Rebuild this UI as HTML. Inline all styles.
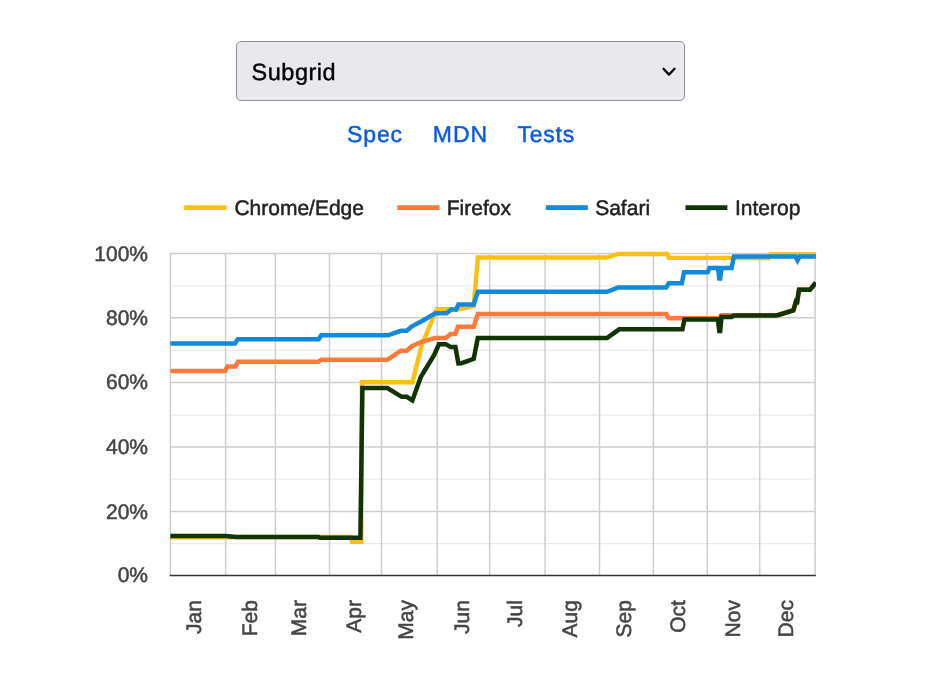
<!DOCTYPE html>
<html lang="en">
<head>
<meta charset="utf-8">
<title>Interop Dashboard - Subgrid</title>
<style>
  html, body { margin: 0; padding: 0; background: #ffffff; }
  body {
    width: 931px; height: 689px; position: relative; overflow: hidden;
    font-family: "Liberation Sans", sans-serif;
  }
  #page {
    position: absolute; left: 0; top: 0; width: 931px; height: 689px;
    will-change: transform; text-rendering: geometricPrecision;
  }
  .select {
    position: absolute; left: 236px; top: 41px; width: 449px; height: 60px;
    box-sizing: border-box;
    background: #e9e9ed; border: 1px solid #8f8f9d; border-radius: 5px;
  }
  .select .value {
    position: absolute; left: 14.6px; top: 14.5px;
    font-size: 23.5px; line-height: 30px; color: #000; letter-spacing: 0.5px;
    -webkit-text-stroke: 0.4px #000;
    white-space: nowrap;
  }
  .select svg { position: absolute; left: 424px; top: 24px; }
  .links a {
    position: absolute; top: 119px;
    font-size: 23px; line-height: 30px; color: #0a5ae4; text-decoration: none;
    -webkit-text-stroke: 0.45px #0a5ae4;
    white-space: nowrap;
  }
  #chart { position: absolute; left: 0; top: 0; }
  #chart text { font-family: "Liberation Sans", sans-serif; }
</style>
</head>
<body>
<div id="page">
  <div class="select">
    <span class="value">Subgrid</span>
    <svg width="16" height="12" viewBox="0 0 16 12"><path d="M2.5 2.8 L8 8.6 L13.5 2.8" fill="none" stroke="#0c0c0d" stroke-width="2.3" stroke-linecap="round" stroke-linejoin="round"/></svg>
  </div>
  <div class="links">
    <a style="left:347px;letter-spacing:0.9px">Spec</a>
    <a style="left:432.8px;letter-spacing:1px">MDN</a>
    <a style="left:517.5px;letter-spacing:0.75px">Tests</a>
  </div>

  <svg id="chart" width="931" height="689" viewBox="0 0 931 689">
    <!-- minor horizontal gridlines -->
    <g stroke="#ebebeb" stroke-width="1.3">
      <path d="M170 543.6H816M170 479.1H816M170 415H816M170 350.3H816M170 285.9H816"/>
    </g>
    <!-- major gridlines -->
    <g stroke="#cecece" stroke-width="1.5">
      <path d="M170 511.4H816M170 446.9H816M170 382.5H816M170 317.7H816M170 253.4H816"/>
      <path d="M170.4 253V576M225.6 253V576M275.4 253V576M329.5 253V576M381.5 253V576M437.3 253V576M489.65 253V576M545.1 253V576M599.5 253V576M653.4 253V576M707.2 253V576M759.7 253V576M815.1 253V576"/>
    </g>
    <!-- baseline -->
    <path d="M169.7 575.5H815.8" stroke="#333333" stroke-width="1.4"/>

    <!-- y labels -->
    <g font-size="21" fill="#444444" stroke="#444444" stroke-width="0.5" text-anchor="end">
      <text x="148" y="260.6">100%</text>
      <text x="148" y="325">80%</text>
      <text x="148" y="389.4">60%</text>
      <text x="148" y="453.8">40%</text>
      <text x="148" y="518.7">20%</text>
      <text x="148" y="582.4">0%</text>
    </g>
    <!-- x labels -->
    <g font-size="21" fill="#444444" stroke="#444444" stroke-width="0.5" text-anchor="end">
      <text transform="translate(201.3 600.1) rotate(-90)">Jan</text>
      <text transform="translate(256.5 600.1) rotate(-90)">Feb</text>
      <text transform="translate(306 600.1) rotate(-90)">Mar</text>
      <text transform="translate(360.9 600.1) rotate(-90)">Apr</text>
      <text transform="translate(413.4 600.1) rotate(-90)">May</text>
      <text transform="translate(468.6 600.1) rotate(-90)">Jun</text>
      <text transform="translate(521.7 600.1) rotate(-90)">Jul</text>
      <text transform="translate(577.1 600.1) rotate(-90)">Aug</text>
      <text transform="translate(631.2 600.1) rotate(-90)">Sep</text>
      <text transform="translate(684.5 600.1) rotate(-90)">Oct</text>
      <text transform="translate(739.5 600.1) rotate(-90)">Nov</text>
      <text transform="translate(792.5 600.1) rotate(-90)">Dec</text>
    </g>

    <!-- legend -->
    <g stroke-width="4.6" fill="none">
      <path d="M184.2 207.6H226.5" stroke="#fbc013"/>
      <path d="M397.2 207.6H439.6" stroke="#fc7a3a"/>
      <path d="M545.8 207.6H587.8" stroke="#1489da"/>
      <path d="M685.5 207.6H727.4" stroke="#123303"/>
    </g>
    <g font-size="21" fill="#222222" stroke="#222222" stroke-width="0.5">
      <text x="234.4" y="214.8">Chrome/Edge</text>
      <text x="446.8" y="214.8">Firefox</text>
      <text x="595.2" y="214.8">Safari</text>
      <text x="735" y="214.8">Interop</text>
    </g>

    <!-- series -->
    <clipPath id="plot"><rect x="169.9" y="240" width="646" height="336"/></clipPath>
    <g fill="none" stroke-width="4.5" stroke-linejoin="miter" clip-path="url(#plot)">
      <!-- Chrome/Edge -->
      <path id="s-chrome" stroke="#fbc013" d="M170.4 537.2 L226 537.2 L236 537.1 L351 537.1 L352 541.8 L361.2 541.8 L361.9 382.2 L412.5 382.2 L421.7 345.1 L436.8 309.2 L459.5 309.2 L473.7 306 L477.9 257.6 L607 257.6 L618.3 253.9 L667.1 253.9 L668.8 257.7 L768.6 257.9 L770.6 254.5 L815.9 254.5"/>
      <!-- Firefox -->
      <path id="s-firefox" stroke="#fc7a3a" d="M170.4 371 L225 371 L227.3 366.4 L235.6 366.4 L237.9 361.8 L318.3 361.8 L321.2 359.8 L387.4 359.8 L400.8 350.7 L406.7 350.7 L411.9 346.2 L421.7 341.8 L435 338 L445.8 338 L450.4 334 L455.3 334 L457.9 326.8 L473.7 326.8 L477.8 314.1 L666.2 314.1 L668.8 318.2 L719.6 318.2 L721.2 315.3 L775.5 315.2 L778.5 314.7 L793.4 310 L796 301.1 L797.2 301.6 L799 289.4 L810.1 289.4 L815.9 282.5"/>
      <!-- Safari -->
      <path id="s-safari" stroke="#1489da" d="M170.4 343.6 L235 343.6 L237.7 339.3 L318.7 339.3 L321.2 335.3 L387.9 335.3 L400.8 330.8 L406.7 330.8 L411.9 326.3 L421.7 321.2 L435.4 313.2 L446.5 313.2 L451.2 309.4 L456.2 309.4 L458.4 304.5 L473.7 304.5 L477.8 291.8 L607 291.8 L618.3 287.4 L666.2 287.4 L668.8 283.2 L681.9 283.2 L684 272.3 L707.6 272.3 L709.5 268 L717.9 268 L719.3 278.6 L720.2 278.6 L721.5 268 L731.6 268 L733.9 256.5 L795.4 256.5 L797.5 260.5 L799.6 256.5 L815.9 256.5"/>
      <!-- Interop -->
      <path id="s-interop" stroke="#123303" d="M170.4 535.9 L226 535.9 L236 537.1 L318.6 537.1 L320 537.8 L360.4 537.8 L362.4 388 L387.4 388 L401.7 396.8 L406.8 396.8 L412.4 400.4 L420.9 376.8 L434.2 355 L438.9 344.3 L445.9 344.3 L450.8 347.1 L455.4 347.1 L458.4 363.4 L461.5 363.2 L473.7 358.9 L477.8 338 L607 338 L619.2 329.3 L682.4 329.3 L684.5 319.6 L717.9 319.4 L719.3 330.9 L720.2 330.9 L721.5 316.9 L731.6 316.9 L733.9 315.5 L775.5 315.5 L778.5 315 L793.4 310.4 L796 301.4 L797.2 301.9 L799 289.7 L810.1 289.7 L815.9 282.7"/>
    </g>
  </svg>
</div>
</body>
</html>
